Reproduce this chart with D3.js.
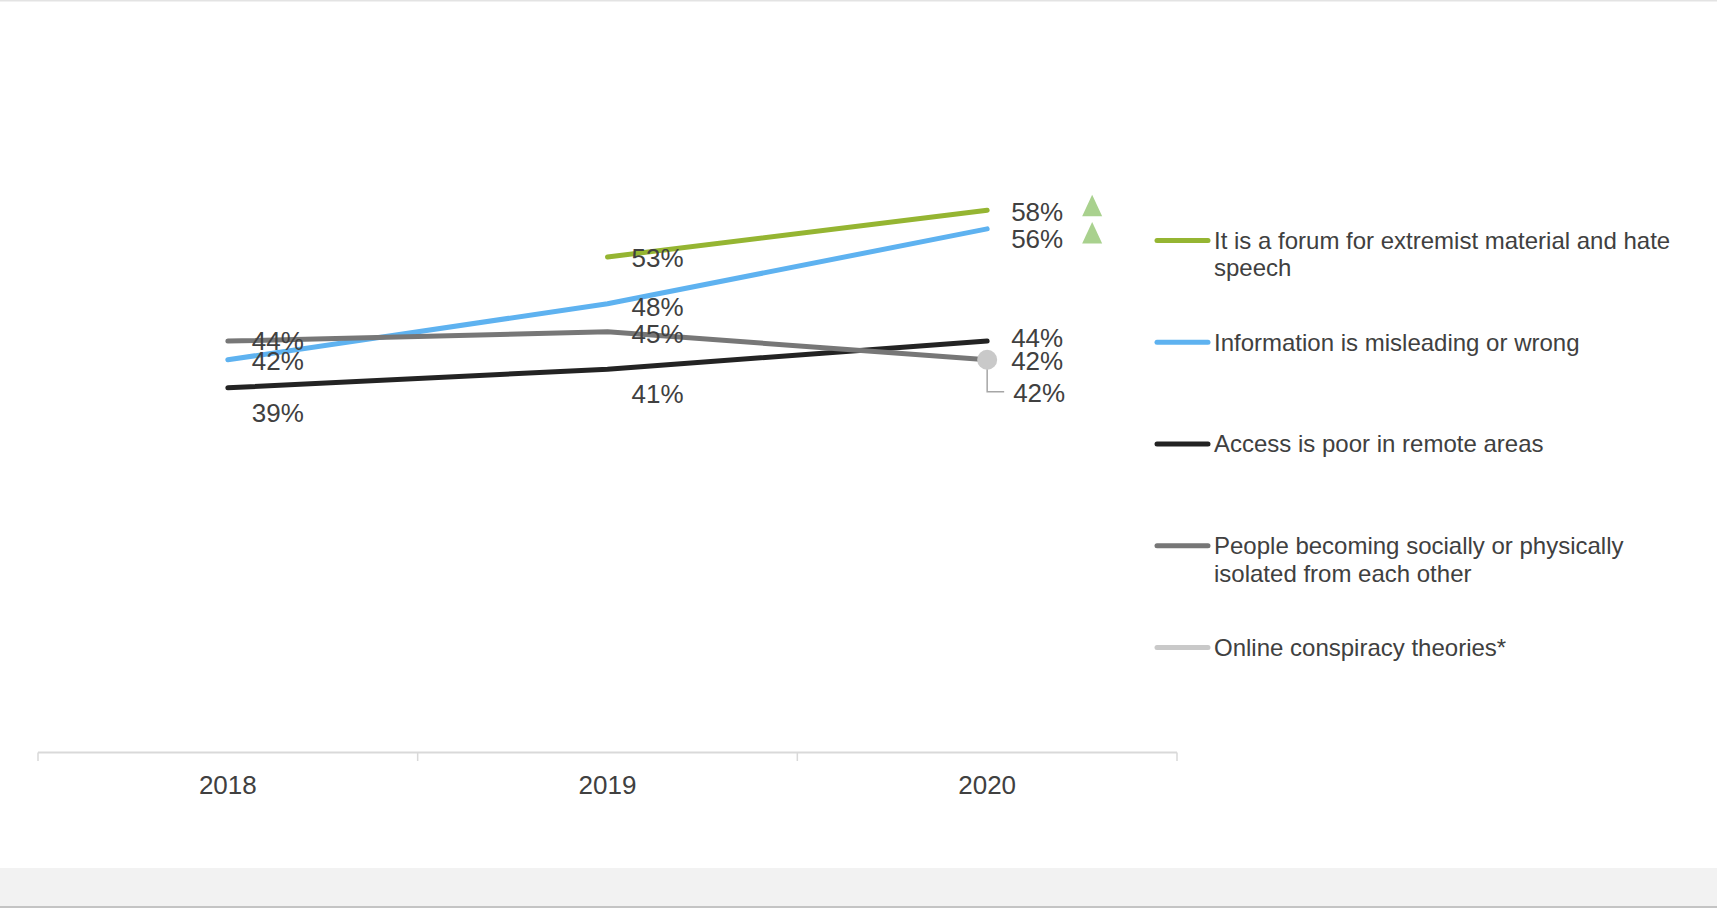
<!DOCTYPE html>
<html>
<head>
<meta charset="utf-8">
<script src="https://cdn.jsdelivr.net/npm/d3@7"></script>
<style>
  html, body { margin: 0; padding: 0; background: #ffffff; }
  svg { display: block; }
  text { font-family: "Liberation Sans", Arial, sans-serif; fill: #404040; }
</style>
</head>
<body>
<svg id="chart" width="1717" height="908"></svg>
<script>
// ---- data ----
const years = ["2018", "2019", "2020"];

const seriesNames = [
  "It is a forum for extremist material and hate speech",
  "Information is misleading or wrong",
  "Access is poor in remote areas",
  "People becoming socially or physically isolated from each other",
  "Online conspiracy theories*"
];

// values in percent, null = not asked that year
const extremistValues  = [null, 53, 58];
const misleadingValues = [42, 48, 56];
const remoteValues     = [39, 41, 44];
const isolatedValues   = [44, 45, 42];
const conspiracyValues = [null, null, 42];

// significant increase markers (series index, year)
const increaseMarks = [
  { series: 0, year: "2020" },
  { series: 1, year: "2020" }
];

// ---- presentation ----
const seriesColors = ["#95b532", "#5eb2f0", "#232323", "#777777", "#c9c9c9"];
const legendLines = [
  ["It is a forum for extremist material and hate", "speech"],
  ["Information is misleading or wrong"],
  ["Access is poor in remote areas"],
  ["People becoming socially or physically", "isolated from each other"],
  ["Online conspiracy theories*"]
];
// vertical nudges of the value labels (px), per series per year
const labelNudge = [
  [0, 1, 1],
  [1, 3, 9.5],
  [25, 24.5, -3.5],
  [0, 2, 1],
  [0, 0, 33]
];

const allValues = [extremistValues, misleadingValues, remoteValues, isolatedValues, conspiracyValues];

const svg = d3.select("#chart");
const W = 1717, H = 908;

// page frame: top hairline and grey footer band
svg.append("rect").attr("x", 0).attr("y", 0).attr("width", W).attr("height", H).attr("fill", "#ffffff");
svg.append("rect").attr("x", 0).attr("y", 0).attr("width", W).attr("height", 1.5).attr("fill", "#e3e3e3");
svg.append("rect").attr("x", 0).attr("y", 868).attr("width", W).attr("height", 40).attr("fill", "#f2f2f2");
svg.append("rect").attr("x", 0).attr("y", 906).attr("width", W).attr("height", 2).attr("fill", "#c4c4c4");

const x = d3.scaleBand().domain(years).range([38, 1177]).padding(0);
const y = d3.scaleLinear().domain([0, 80]).range([752.5, 4.5]);
const cx = yr => x(yr) + x.bandwidth() / 2;

// x axis
const axis = d3.axisBottom(x).tickSize(0).tickPadding(0).tickFormat(d => d);
const gAxis = svg.append("g").attr("transform", `translate(0,${y(0)})`).call(axis);
gAxis.select(".domain").remove();
gAxis.selectAll(".tick text")
  .attr("y", 41).attr("dy", 0)
  .style("font-size", "26px").style("font-family", "\"Liberation Sans\", Arial, sans-serif")
  .attr("fill", "#404040");
svg.append("line")
  .attr("x1", 38).attr("x2", 1177).attr("y1", y(0)).attr("y2", y(0))
  .attr("stroke", "#d9d9d9").attr("stroke-width", 2);
const boundaries = years.map(yr => x(yr)).concat([x(years[years.length - 1]) + x.bandwidth()]);
svg.append("g").selectAll("line").data(boundaries).join("line")
  .attr("x1", d => d).attr("x2", d => d)
  .attr("y1", y(0)).attr("y2", y(0) + 8.5)
  .attr("stroke", "#d9d9d9").attr("stroke-width", 1.5);

// lines
const line = d3.line()
  .defined(d => d.v != null)
  .x(d => cx(d.yr))
  .y(d => y(d.v));

const seriesData = allValues.map((vals, i) => ({
  i,
  pts: years.map((yr, j) => ({ yr, v: vals[j], j }))
}));

svg.append("g").selectAll("path")
  .data(seriesData.filter(s => s.pts.filter(p => p.v != null).length > 1))
  .join("path")
  .attr("d", s => line(s.pts))
  .attr("fill", "none")
  .attr("stroke", s => seriesColors[s.i])
  .attr("stroke-width", 5)
  .attr("stroke-linecap", "round")
  .attr("stroke-linejoin", "round");

// single-point series drawn as a dot with a leader line to its label
seriesData.filter(s => s.pts.filter(p => p.v != null).length === 1).forEach(s => {
  const p = s.pts.find(q => q.v != null);
  const px = cx(p.yr), py = y(p.v);
  const ly = py + labelNudge[s.i][p.j];
  svg.append("path")
    .attr("d", `M${px},${py} V${ly - 1} H${px + 17}`)
    .attr("fill", "none").attr("stroke", "#a6a6a6").attr("stroke-width", 1.5);
  svg.append("circle").attr("cx", px).attr("cy", py).attr("r", 10)
    .attr("fill", seriesColors[s.i]);
});

// value labels
const labels = [];
seriesData.forEach(s => s.pts.forEach(p => {
  if (p.v == null) return;
  labels.push({ i: s.i, yr: p.yr, v: p.v, ny: labelNudge[s.i][p.j] });
}));
svg.append("g").selectAll("text").data(labels).join("text")
  .attr("x", d => cx(d.yr) + (d.i === 4 ? 52 : 50))
  .attr("y", d => y(d.v) + d.ny)
  .attr("dy", "0.36em")
  .attr("text-anchor", "middle")
  .style("font-size", "26px")
  .text(d => d.v + "%");

// significance triangles next to the labels
svg.append("g").selectAll("path").data(increaseMarks).join("path")
  .attr("d", m => {
    const j = years.indexOf(m.year);
    const v = allValues[m.series][j];
    const ly = y(v) + labelNudge[m.series][j];
    const tx = cx(m.year) + 105;
    return `M${tx},${ly - 16.5} L${tx + 10},${ly + 5} L${tx - 10},${ly + 5} Z`;
  })
  .attr("fill", "#a9d18e");

// legend
const legend = svg.append("g").attr("transform", "translate(1155,240.5)");
const items = legend.selectAll("g").data(seriesNames).join("g")
  .attr("transform", (d, i) => `translate(0,${i * 101.75})`);
items.append("line")
  .attr("x1", 2).attr("x2", 53).attr("y1", 0).attr("y2", 0)
  .attr("stroke", (d, i) => seriesColors[i])
  .attr("stroke-width", 5).attr("stroke-linecap", "round");
items.append("text")
  .attr("x", 59).attr("y", 0)
  .style("font-size", "24px")
  .selectAll("tspan").data((d, i) => legendLines[i]).join("tspan")
  .attr("x", 59).attr("y", (d, k) => k * 27.5).attr("dy", "0.35em")
  .text(d => d);
</script>
</body>
</html>
